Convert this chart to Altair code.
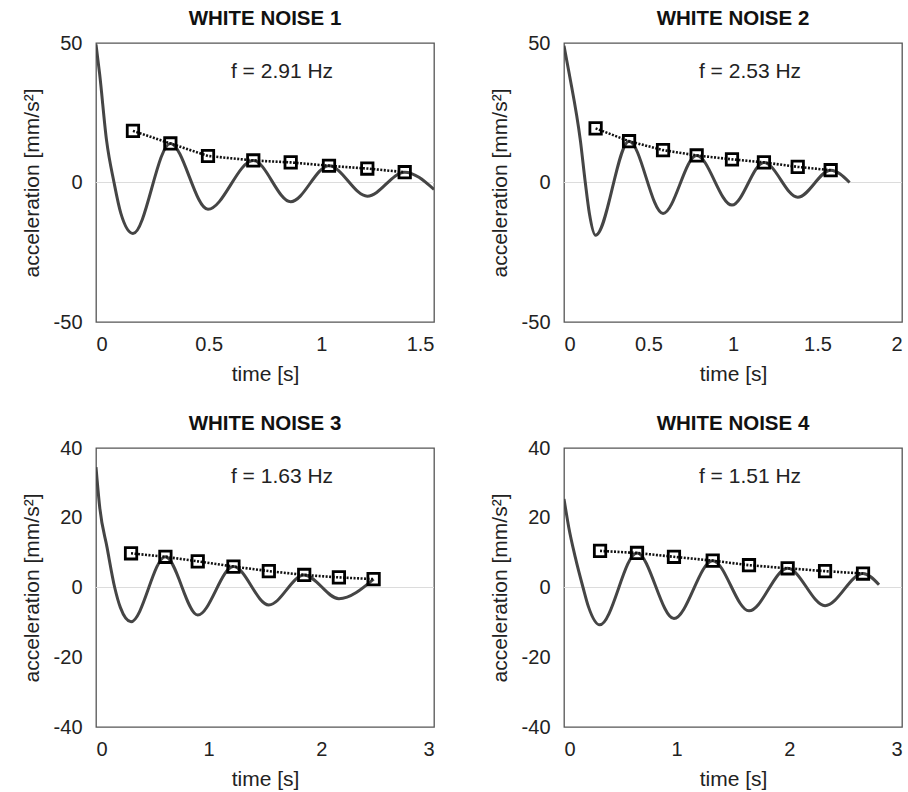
import altair as alt
import pandas as pd

FONT = "Liberation Sans"

panel_titles = ["WHITE NOISE 1", "WHITE NOISE 2", "WHITE NOISE 3", "WHITE NOISE 4"]
freq_labels = ["f = 2.91 Hz", "f = 2.53 Hz", "f = 1.63 Hz", "f = 1.51 Hz"]

x_max = [1.5, 2, 3, 3]
x_ticks = [[0, 0.5, 1, 1.5], [0, 0.5, 1, 1.5, 2], [0, 1, 2, 3], [0, 1, 2, 3]]
y_lim = [50, 50, 40, 40]
y_ticks = [[-50, 0, 50], [-50, 0, 50], [-40, -20, 0, 20, 40], [-40, -20, 0, 20, 40]]

# free-decay acceleration records
curve1_t = [0, 0.016, 0.047, 0.08, 0.11, 0.164, 0.33, 0.497, 0.698, 0.864, 1.034, 1.204, 1.37, 1.5]
curve1_a = [49.5, 39, 15, 0, -11, -18.3, 14.0, -9.6, 7.9, -6.9, 6.0, -4.9, 3.7, -2.5]
curve2_t = [0, 0.031, 0.097, 0.126, 0.15, 0.187, 0.385, 0.586, 0.785, 0.994, 1.183, 1.383, 1.578, 1.69]
curve2_a = [49, 39, 15, 0, -11, -18.9, 14.8, -11.1, 9.7, -8.1, 7.2, -5.3, 4.4, 0]
curve3_t = [0, 0.033, 0.098, 0.166, 0.216, 0.311, 0.616, 0.903, 1.22, 1.534, 1.848, 2.156, 2.464]
curve3_a = [34.5, 23, 11.5, 0, -5.7, -9.8, 8.8, -7.9, 6.0, -5.0, 3.6, -3.2, 2.4]
curve4_t = [0, 0.042, 0.1, 0.169, 0.219, 0.317, 0.648, 0.976, 1.32, 1.642, 1.985, 2.317, 2.654, 2.796]
curve4_a = [25.4, 17.3, 8.7, 0, -5.7, -10.7, 9.9, -8.9, 7.7, -6.7, 5.5, -5.2, 4.0, 0.8]

# peak envelope (square markers)
peaks1_t = [0.164, 0.33, 0.497, 0.698, 0.864, 1.034, 1.204, 1.37]
peaks1_a = [18.5, 14.0, 9.5, 7.9, 7.2, 6.0, 5.0, 3.7]
peaks2_t = [0.187, 0.385, 0.586, 0.785, 0.994, 1.183, 1.383, 1.578]
peaks2_a = [19.4, 14.8, 11.6, 9.7, 8.3, 7.2, 5.6, 4.4]
peaks3_t = [0.311, 0.616, 0.903, 1.22, 1.534, 1.848, 2.156, 2.464]
peaks3_a = [9.8, 8.8, 7.5, 6.0, 4.7, 3.6, 2.9, 2.4]
peaks4_t = [0.32, 0.648, 0.976, 1.32, 1.642, 1.985, 2.317, 2.654]
peaks4_a = [10.5, 9.9, 8.8, 7.7, 6.4, 5.5, 4.7, 4.0]

curves = [(curve1_t, curve1_a), (curve2_t, curve2_a), (curve3_t, curve3_a), (curve4_t, curve4_a)]
peaks = [(peaks1_t, peaks1_a), (peaks2_t, peaks2_a), (peaks3_t, peaks3_a), (peaks4_t, peaks4_a)]

PW, PH = 338, 279


def panel(i):
    cdf = pd.DataFrame({"t": curves[i][0], "a": curves[i][1]})
    pdf = pd.DataFrame({"t": peaks[i][0], "a": peaks[i][1]})
    xsc = alt.Scale(domain=[0, x_max[i]], nice=False, zero=False)
    ysc = alt.Scale(domain=[-y_lim[i], y_lim[i]], nice=False)
    xax = alt.Axis(values=x_ticks[i], labelExpr="datum.value + ''", title="time [s]")
    yax = alt.Axis(values=y_ticks[i], labelExpr="datum.value + ''", title="acceleration [mm/s²]")

    zero = alt.Chart(pd.DataFrame({"z": [0]})).mark_rule(color="#dcdcdc", strokeWidth=1).encode(
        y=alt.Y("z:Q", scale=ysc, axis=yax)
    )
    line = alt.Chart(cdf).mark_line(
        interpolate="monotone", color="#454545", strokeWidth=3, clip=True
    ).encode(
        x=alt.X("t:Q", scale=xsc, axis=xax),
        y=alt.Y("a:Q", scale=ysc, axis=yax),
    )
    env = alt.Chart(pdf).mark_line(color="#111111", strokeWidth=2.6, strokeDash=[2, 1.5]).encode(
        x=alt.X("t:Q", scale=xsc, axis=xax),
        y=alt.Y("a:Q", scale=ysc, axis=yax),
    )
    pts = alt.Chart(pdf).mark_point(
        shape="square", filled=False, size=130, stroke="#000000", strokeWidth=2.8, opacity=1
    ).encode(
        x=alt.X("t:Q", scale=xsc, axis=xax),
        y=alt.Y("a:Q", scale=ysc, axis=yax),
    )
    txt = alt.Chart(pd.DataFrame({"label": [freq_labels[i]]})).mark_text(
        font=FONT, fontSize=21, color="#222222", align="center", baseline="middle"
    ).encode(text="label:N", x=alt.value(186), y=alt.value(29))

    return alt.layer(zero, line, env, pts, txt).properties(
        width=PW,
        height=PH,
        title=alt.TitleParams(
            panel_titles[i], font=FONT, fontSize=20.5, fontWeight="bold", color="#111111",
            anchor="middle", frame="group", baseline="alphabetic", offset=-12,
        ),
    )


chart = alt.concat(
    panel(0), panel(1), panel(2), panel(3),
    columns=2,
    spacing={"row": 126, "column": 130},
    bounds="flush",
).properties(
    padding={"left": 20, "top": 7, "right": 0, "bottom": 0},
    background="white",
).configure_view(
    stroke="#555555", strokeWidth=1.3
).configure_axis(
    labelFont=FONT, labelFontSize=20, labelColor="#222222",
    titleFont=FONT, titleFontSize=21, titleFontWeight="normal", titleColor="#222222",
    ticks=False, domain=False, grid=False,
).configure_axisX(
    labelPadding=12, titlePadding=9,
).configure_axisY(
    labelPadding=14, titlePadding=11,
)

chart.save("out.html", embed_options={"renderer": "svg", "actions": False})
